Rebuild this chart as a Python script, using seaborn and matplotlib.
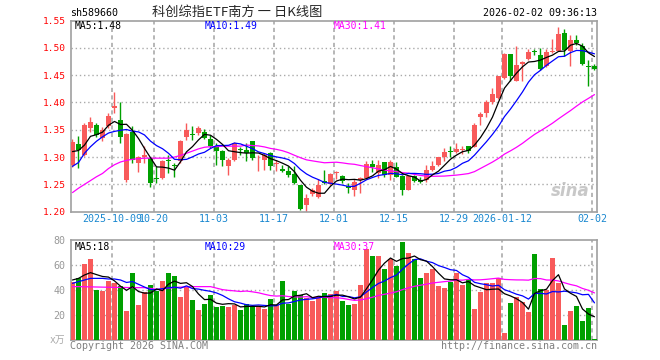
import numpy as np
import pandas as pd
import matplotlib
matplotlib.use('Agg')
import matplotlib.pyplot as plt
import seaborn as sns

sns.set_style('white')
plt.rcParams['font.family'] = ['DejaVu Sans Mono', 'Noto Sans CJK SC']

# daily candles, 2025-09-22 .. 2026-02-02
opens = [1.286, 1.324, 1.304, 1.353, 1.359, 1.335, 1.356, 1.390, 1.368, 1.258,
         1.345, 1.289, 1.300, 1.298, 1.261, 1.262, 1.295, 1.285, 1.292, 1.337,
         1.342, 1.344, 1.346, 1.333, 1.319, 1.312, 1.284, 1.294, 1.314, 1.313,
         1.329, 1.292, 1.295, 1.307, 1.287, 1.279, 1.275, 1.269, 1.249, 1.213,
         1.233, 1.227, 1.257, 1.251, 1.271, 1.266, 1.247, 1.240, 1.258, 1.261,
         1.287, 1.271, 1.291, 1.268, 1.282, 1.266, 1.240, 1.265, 1.258, 1.258,
         1.277, 1.285, 1.301, 1.311, 1.309, 1.313, 1.321, 1.319, 1.374, 1.381,
         1.400, 1.408, 1.445, 1.488, 1.439, 1.470, 1.479, 1.494, 1.486, 1.466,
         1.493, 1.494, 1.528, 1.494, 1.515, 1.503, 1.467, 1.466]
highs = [1.333, 1.339, 1.363, 1.374, 1.362, 1.355, 1.381, 1.420, 1.400, 1.344,
         1.356, 1.302, 1.320, 1.300, 1.283, 1.295, 1.304, 1.289, 1.332, 1.362,
         1.357, 1.356, 1.352, 1.341, 1.325, 1.313, 1.298, 1.327, 1.319, 1.326,
         1.329, 1.303, 1.307, 1.310, 1.295, 1.286, 1.283, 1.283, 1.249, 1.232,
         1.243, 1.259, 1.277, 1.270, 1.275, 1.268, 1.252, 1.259, 1.263, 1.292,
         1.295, 1.294, 1.291, 1.294, 1.291, 1.268, 1.268, 1.268, 1.264, 1.286,
         1.292, 1.301, 1.316, 1.320, 1.326, 1.320, 1.321, 1.362, 1.382, 1.405,
         1.426, 1.449, 1.490, 1.488, 1.504, 1.475, 1.497, 1.497, 1.499, 1.497,
         1.516, 1.538, 1.535, 1.524, 1.524, 1.508, 1.478, 1.470]
lows = [1.281, 1.280, 1.302, 1.345, 1.337, 1.329, 1.353, 1.381, 1.326, 1.255,
        1.289, 1.272, 1.290, 1.246, 1.252, 1.259, 1.270, 1.263, 1.289, 1.332,
        1.332, 1.340, 1.333, 1.317, 1.286, 1.283, 1.268, 1.292, 1.304, 1.292,
        1.295, 1.275, 1.277, 1.277, 1.274, 1.273, 1.264, 1.250, 1.204, 1.200,
        1.228, 1.225, 1.250, 1.249, 1.259, 1.252, 1.234, 1.229, 1.235, 1.260,
        1.272, 1.262, 1.264, 1.258, 1.264, 1.230, 1.240, 1.255, 1.252, 1.255,
        1.275, 1.284, 1.292, 1.300, 1.307, 1.306, 1.308, 1.318, 1.359, 1.374,
        1.397, 1.406, 1.443, 1.439, 1.439, 1.440, 1.477, 1.486, 1.460, 1.465,
        1.490, 1.494, 1.485, 1.466, 1.506, 1.469, 1.430, 1.459]
closes = [1.327, 1.313, 1.359, 1.365, 1.341, 1.350, 1.376, 1.394, 1.337, 1.343,
          1.295, 1.301, 1.303, 1.252, 1.259, 1.293, 1.292, 1.284, 1.329, 1.350,
          1.341, 1.353, 1.335, 1.321, 1.312, 1.295, 1.295, 1.326, 1.313, 1.307,
          1.298, 1.293, 1.304, 1.283, 1.289, 1.275, 1.267, 1.252, 1.205, 1.225,
          1.239, 1.248, 1.252, 1.269, 1.273, 1.256, 1.243, 1.255, 1.261, 1.288,
          1.281, 1.286, 1.268, 1.291, 1.264, 1.240, 1.266, 1.256, 1.255, 1.277,
          1.283, 1.300, 1.310, 1.310, 1.315, 1.314, 1.312, 1.359, 1.379, 1.400,
          1.416, 1.448, 1.488, 1.448, 1.468, 1.474, 1.492, 1.493, 1.461, 1.492,
          1.495, 1.526, 1.496, 1.515, 1.508, 1.470, 1.465, 1.462]
# volume, 10k units
volumes = [46.7, 49.9, 60.5, 64.5, 40.0, 39.2, 47.5, 45.3, 43.2, 23.5,
           53.9, 28.0, 38.7, 44.0, 39.5, 47.2, 53.9, 51.2, 34.7, 42.1,
           32.0, 24.0, 28.8, 36.0, 26.7, 27.2, 26.7, 27.7, 24.0, 28.8,
           27.2, 27.2, 25.0, 32.8, 28.0, 47.2, 28.8, 39.2, 36.0, 33.9,
           31.2, 34.7, 37.3, 36.8, 39.2, 31.5, 28.0, 28.8, 44.0, 72.5,
           67.2, 67.2, 56.5, 64.5, 59.2, 78.4, 69.3, 64.5, 49.9, 53.3,
           56.5, 43.2, 41.3, 46.7, 53.3, 44.0, 48.5, 24.8, 38.7, 45.3,
           45.9, 49.3, 5.9, 29.9, 34.1, 30.7, 22.7, 68.8, 40.8, 40.0,
           65.6, 45.9, 12.0, 23.5, 27.2, 15.5, 25.6, 1.1]

# moving averages before enough visible days exist
ma5_head = [1.310, 1.312, 1.322, 1.338]
ma10_head = [1.283, 1.290, 1.307, 1.319, 1.329, 1.337, 1.344, 1.347, 1.349]
ma30_head = [1.235, 1.243, 1.250, 1.257, 1.264, 1.270, 1.279, 1.286, 1.291, 1.294,
             1.296, 1.297, 1.298, 1.298, 1.298, 1.298, 1.298, 1.300, 1.303, 1.307,
             1.311, 1.315, 1.318, 1.319, 1.319, 1.320, 1.320, 1.320, 1.320]
vma5_head = [48.0, 49.3, 52.0, 53.9]
vma10_head = [45.3, 46.7, 48.0, 49.3, 49.3, 49.3, 48.8, 48.8, 48.0]
vma30_head = [42.7, 42.7, 42.6, 42.5, 42.4, 42.3, 42.2, 42.1, 42.1, 42.0,
              41.9, 41.9, 41.9, 41.2, 40.6, 40.8, 41.5, 42.0, 42.3, 42.5,
              42.7, 42.7, 42.7, 42.7, 41.5, 40.3, 39.7, 39.3, 38.8]

date_idx = [7, 14, 24, 34, 44, 54, 64, 72, 87]
date_labels = ['2025-10-09', '10-20', '11-03', '11-17', '12-01', '12-15',
               '12-29', '2026-01-12', '02-02']

RED = '#f85a5a'
GREEN = '#00a000'
GRID = '#aaaaaa'
FRAME = '#a0a0a0'
W, H = 660, 360

df = pd.DataFrame(dict(open=opens, high=highs, low=lows, close=closes, vol=volumes))
df['k'] = np.arange(len(df))
df['dir'] = np.where(df['close'] >= df['open'], 'up', 'down')


def ma(s, n, head):
    out = s.rolling(n).mean()
    out.iloc[:len(head)] = head
    return out


df['ma5'] = ma(df['close'], 5, ma5_head)
df['ma10'] = ma(df['close'], 10, ma10_head)
df['ma30'] = ma(df['close'], 30, ma30_head)
df['vma5'] = ma(df['vol'], 5, vma5_head)
df['vma10'] = ma(df['vol'], 10, vma10_head)
df['vma30'] = ma(df['vol'], 30, vma30_head)

fig = plt.figure(figsize=(W / 100, H / 100), dpi=100)
ax1 = fig.add_axes([71 / W, 1 - 211.7 / H, 526 / W, 191.2 / H])
ax2 = fig.add_axes([71 / W, 1 - 340 / H, 526 / W, 100 / H])
XLIM = (-0.25, 87.42)
grid_x = [i - 0.37 for i in date_idx]

#region price panel
cols = np.where(df['dir'] == 'up', RED, GREEN)
ax1.vlines(df['k'], df['low'], df['high'], colors=cols, lw=1, zorder=2)
body_lo = np.minimum(df['open'], df['close'])
body_h = np.maximum((df['close'] - df['open']).abs(), 0.0012)
ax1.bar(df['k'], body_h, bottom=body_lo, width=0.8, color=cols, lw=0, zorder=3)
for col, c in [('ma30', '#ff00ff'), ('ma10', '#0000ff'), ('ma5', 'black')]:
    sns.lineplot(data=df, x='k', y=col, ax=ax1, color=c, lw=0.9, zorder=4)
ax1.set_xlim(*XLIM)
ax1.set_ylim(1.20, 1.55)
ax1.set_yticks(np.arange(1.20, 1.5501, 0.05))
ax1.set_yticklabels(['%.2f' % v for v in np.arange(1.20, 1.5501, 0.05)],
                    color='red', fontsize=6.8)
ax1.set_xticks(grid_x)
ax1.set_xticklabels(date_labels, color='#1a88d0', fontsize=7.2)
ax1.tick_params(axis='x', direction='in', length=3, color=FRAME, pad=2)
ax1.tick_params(axis='y', length=0, pad=4)
ax1.set_xlabel('')
ax1.set_ylabel('')
for v in np.arange(1.25, 1.5401, 0.05):
    ax1.axhline(v, color=GRID, lw=1, ls=(0, (1, 2)), zorder=1)
for gx in grid_x:
    ax1.axvline(gx, color=GRID, lw=1.2, ls=(0, (2.5, 2)), zorder=1)
ax1.text(0.985, 0.06, 'sina', transform=ax1.transAxes, ha='right', va='bottom',
         fontsize=12, fontweight='bold', style='italic', color='#c8c8c8',
         family='DejaVu Sans', zorder=0)
#endregion price panel

#region volume panel
sns.barplot(data=df, x='k', y='vol', hue='dir', palette={'up': RED, 'down': GREEN},
            dodge=False, width=0.8, saturation=1, legend=False, linewidth=0,
            ax=ax2, zorder=3)
for col, c in [('vma30', '#ff00ff'), ('vma10', '#0000ff'), ('vma5', 'black')]:
    sns.lineplot(x=df['k'].values, y=df[col].values, ax=ax2, color=c, lw=0.9, zorder=4)
ax2.set_xlim(*XLIM)
ax2.set_ylim(0, 80)
ax2.set_yticks([20, 40, 60, 80])
ax2.set_yticklabels(['20', '40', '60', '80'], color='#999999', fontsize=7.2)
ax2.tick_params(axis='y', length=0, pad=4)
ax2.set_xticks([])
ax2.set_xlabel('')
ax2.set_ylabel('')
for v in [20, 40, 60]:
    ax2.axhline(v, color=GRID, lw=1, ls=(0, (1, 2)), zorder=1)
for gx in grid_x:
    ax2.axvline(gx, color=GRID, lw=1.2, ls=(0, (2.5, 2)), zorder=1)
#endregion volume panel

for ax in (ax1, ax2):
    for sp in ax.spines.values():
        sp.set_color(FRAME)
        sp.set_linewidth(1.2)
        sp.set_visible(True)


def ftxt(x, y, s, **kw):
    kw.setdefault('va', 'center')
    kw.setdefault('fontsize', 7.2)
    fig.text(x / W, 1 - y / H, s, **kw)


ftxt(70, 13, 'sh589660', color='black')
ftxt(237, 12, '科创综指ETF南方 一 日K线图', ha='center', fontsize=9.5,
     family=['Noto Sans CJK SC', 'DejaVu Sans'])
ftxt(597, 13, '2026-02-02 09:36:13', ha='right', color='black')
ftxt(75, 26, 'MA5:1.48', color='black', fontsize=7)
ftxt(205, 26, 'MA10:1.49', color='#0000ff', fontsize=7)
ftxt(334, 26, 'MA30:1.41', color='#ff00ff', fontsize=7)
ftxt(75, 246.5, 'MA5:18', color='black', fontsize=7)
ftxt(205, 246.5, 'MA10:29', color='#0000ff', fontsize=7)
ftxt(334, 246.5, 'MA30:37', color='#ff00ff', fontsize=7)
ftxt(65, 340, 'x万', ha='right', color='#aaaaaa', fontsize=7,
     family=['DejaVu Sans Mono', 'Noto Sans CJK SC'])
ftxt(70, 346, 'Copyright 2026 SINA.COM', color='#808080')
ftxt(597, 346, 'http://finance.sina.com.cn', ha='right', color='#808080')

fig.savefig('out.png', dpi=100)
